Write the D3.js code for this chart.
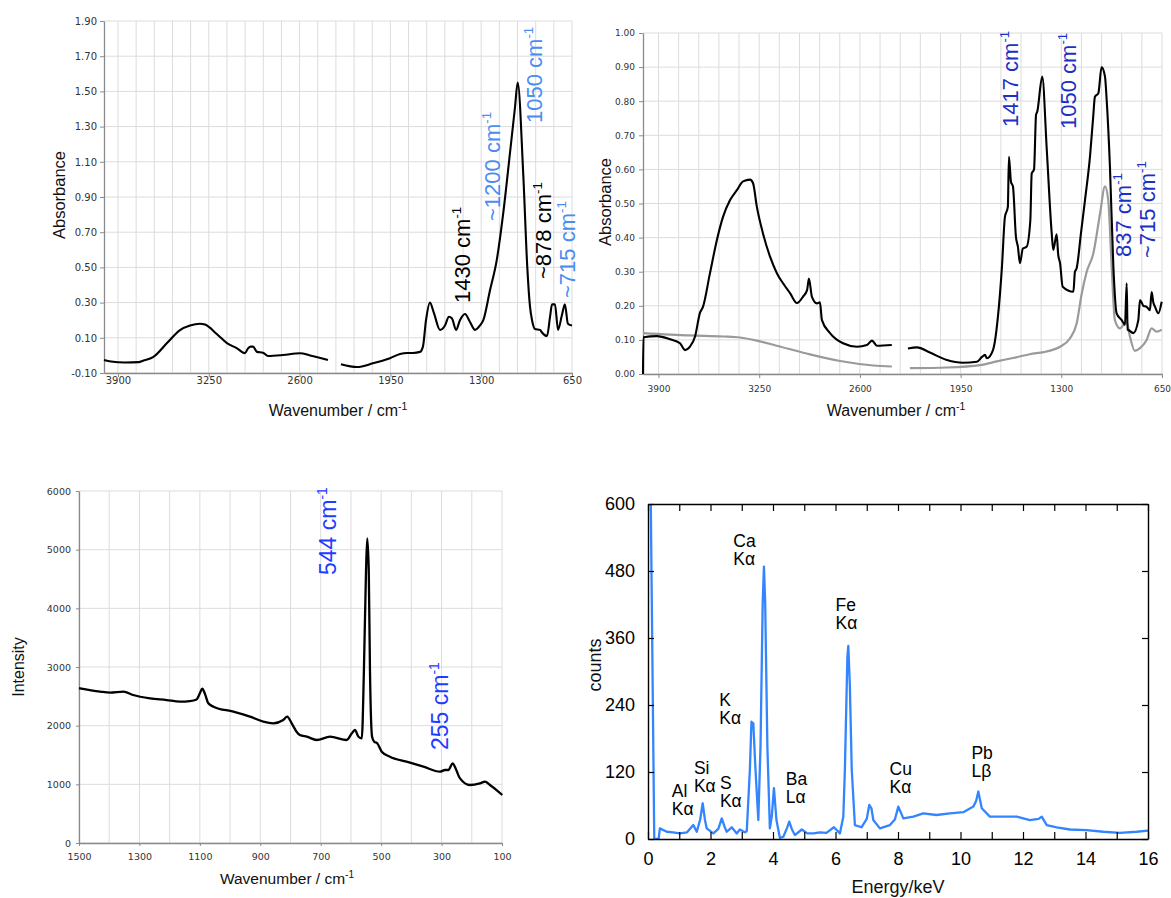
<!DOCTYPE html>
<html><head><meta charset="utf-8">
<script src="https://cdn.jsdelivr.net/npm/d3@7/dist/d3.min.js"></script>
<style>body{margin:0;background:#fff}svg{display:block}</style>
</head><body>
<svg id="chart" width="1171" height="898"></svg>
<script>
// ---------- DATA ----------
// Panel A: FTIR spectrum (null = gap in recorded data)
const irAWavenumber = [4000,3950,3850,3750,3721,3649,3549,3456,3384,3313,3277,3191,3120,3048,2991,2969,2950,2933,2905,2862,2826,2719,2597,2525,2397,null,
  2304,2189,2075,1953,1881,1831,1788,1738,1717,1695,1667,1638,1595,1559,1531,1509,1480,1452,1416,1380,1344,1309,1285,1237,1189,1142,1094,1058,1039,999,970,951,936,915,879,865,829,807,793,772,750,722,701,679,650];
const irAAbsorbance = [-0.026,-0.035,-0.04,-0.038,-0.03,-0.01,0.07,0.144,0.17,0.18,0.175,0.12,0.07,0.04,0.013,0.04,0.05,0.05,0.02,0.015,-0.003,0.002,0.012,0.0,-0.026,null,
  -0.05,-0.066,-0.045,-0.016,0.008,0.014,0.014,0.02,0.05,0.2,0.30,0.24,0.145,0.17,0.22,0.21,0.145,0.2,0.235,0.19,0.145,0.17,0.2,0.37,0.54,0.81,1.15,1.41,1.55,1.03,0.5,0.28,0.2,0.15,0.145,0.13,0.11,0.22,0.29,0.29,0.145,0.23,0.29,0.18,0.17];
const irAYTicks = [-0.10,0.10,0.30,0.50,0.70,0.90,1.10,1.30,1.50,1.70,1.90];
const irXTicks = [3900,3250,2600,1950,1300,650];

// Panel B: FTIR, sample (black) and reference (grey)
const irBWavenumber = [4000,3997,3910,3826,3761,3729,3697,3664,3632,3613,3568,3523,3484,3438,3393,3354,3309,3290,3265,3226,3180,3135,3096,3051,3006,2967,2941,2929,2910,2877,2858,2845,2793,2709,2619,2555,2522,2490,2394,null,
  2290,2232,2148,2038,1935,1845,1812,1793,1780,1741,1709,1683,1664,1645,1638,1625,1612,1593,1580,1567,1548,1524,1500,1491,1476,1463,1455,1423,1394,1362,1352,1330,1320,1308,1291,1222,1212,1201,1173,1147,1115,1094,1083,1061,1040,1018,1007,986,964,943,910,889,878,872,867,835,803,792,770,749,728,717,706,695,674,652];
const irBSample = [0.0,0.108,0.111,0.102,0.09,0.07,0.08,0.11,0.18,0.197,0.295,0.393,0.46,0.51,0.54,0.565,0.57,0.56,0.49,0.413,0.344,0.295,0.266,0.237,0.208,0.227,0.246,0.28,0.227,0.207,0.21,0.158,0.12,0.09,0.08,0.085,0.098,0.083,0.085,null,
  0.075,0.078,0.063,0.041,0.033,0.036,0.05,0.056,0.046,0.07,0.168,0.315,0.46,0.49,0.637,0.564,0.55,0.403,0.373,0.325,0.368,0.373,0.45,0.588,0.6,0.76,0.77,0.872,0.66,0.413,0.364,0.41,0.35,0.325,0.256,0.241,0.30,0.31,0.413,0.51,0.637,0.755,0.813,0.823,0.90,0.872,0.803,0.608,0.315,0.178,0.158,0.144,0.266,0.13,0.129,0.12,0.158,0.217,0.2,0.197,0.187,0.24,0.21,0.197,0.178,0.212];
const irBRefWavenumber = [4000,3697,3482,3374,3266,3137,2944,2728,2513,2394,null,2277,2038,1825,1716,1612,1504,1394,1308,1244,1201,1168,1136,1093,1050,1018,997,975,954,922,878,857,825,792,749,717,685,652];
const irBReference = [0.12,0.113,0.11,0.107,0.098,0.083,0.06,0.038,0.025,0.022,null,0.017,0.019,0.026,0.037,0.047,0.058,0.066,0.08,0.105,0.148,0.236,0.3,0.354,0.47,0.55,0.51,0.315,0.158,0.134,0.153,0.11,0.068,0.076,0.1,0.134,0.124,0.13];
const irBYTicks = [0,0.1,0.2,0.3,0.4,0.5,0.6,0.7,0.8,0.9,1.0];

// Panel C: Raman spectrum
const ramanShift = [1500,1497,1430,1397,1353,1321,1265,1210,1166,1133,1111,1100,1092,1083,1072,1055,989,934,890,857,824,811,796,780,769,746,713,669,614,597,587,575,564,557,550,546,541,537,530,523,513,498,471,416,360,305,289,278,263,256,239,206,173,156,140,118,99];
const ramanIntensity = [2640,2637,2580,2563,2580,2523,2466,2437,2409,2418,2446,2552,2630,2540,2381,2324,2238,2153,2068,2040,2096,2153,2040,1897,1841,1812,1756,1812,1756,1870,1926,1812,1784,2949,4653,5193,4653,2949,1812,1727,1700,1556,1471,1386,1301,1215,1244,1244,1358,1300,1102,989,1017,1045,989,903,818];
const ramanXTicks = [1500,1300,1100,900,700,500,300,100];
const ramanYTicks = [0,1000,2000,3000,4000,5000,6000];

// Panel D: EDX spectrum
const edxEnergy = [0.08,0.2,0.34,0.38,0.6,0.8,1.02,1.25,1.45,1.56,1.67,1.75,1.82,1.88,2.09,2.25,2.36,2.45,2.52,2.68,2.84,2.94,3.1,3.16,3.26,3.31,3.37,3.44,3.53,3.6,3.67,3.71,3.75,3.82,3.9,3.96,4.03,4.11,4.22,4.33,4.45,4.52,4.6,4.7,4.92,5.1,5.29,5.5,5.71,5.95,6.14,6.25,6.3,6.38,6.41,6.46,6.52,6.62,6.83,7.0,7.08,7.15,7.21,7.42,7.74,7.9,8.01,8.17,8.49,8.81,9.23,9.66,10.09,10.41,10.5,10.57,10.68,10.94,11.37,11.8,12.22,12.5,12.6,12.76,13.08,13.5,14.03,14.57,15.1,15.64,16];
const edxCounts = [650,0,0,19,13,12,10,12,25,13,35,64,35,19,10,18,37,22,13,21,10,17,12,14,124,210,207,124,34,165,422,488,422,165,19,40,91,34,2,4,20,31,18,7,17,10,10,12,11,21,10,40,124,326,346,273,124,25,21,36,61,55,34,19,25,35,58,37,40,46,43,46,48,58,68,85,55,40,40,40,34,36,40,25,21,17,16,13,11,13,15];
const edxXTicks = [0,1,2,3,4,5,6,7,8,9,10,11,12,13,14,15,16];
const edxYTicks = [0,120,240,360,480,600];
const edxLabels = [["Al","Kα",0.76,791],["Si","Kα",1.47,768],["S","Kα",2.30,783],["K","Kα",2.28,700],["Ca","Kα",2.73,541],["Ba","Lα",4.41,779],["Fe","Kα",6.0,605],["Cu","Kα",7.73,769],["Pb","Lβ",10.35,753]];

// ---------- DRAWING ----------
const SANS = "'Liberation Sans', Arial, Helvetica, sans-serif";
const TICKF = "'DejaVu Sans', Verdana, sans-serif";
const svg = d3.select("#chart");
svg.append("rect").attr("width",1171).attr("height",898).attr("fill","#fff");

const zip = (a,b) => a.map((v,i)=>[v,b[i]]);

function grid(g, x, y, xs, ys){
  g.append("g").selectAll("line").data(xs).join("line")
    .attr("x1",d=>x(d)).attr("x2",d=>x(d)).attr("y1",y.range()[0]).attr("y2",y.range()[1])
    .attr("stroke","#dcdcdc").attr("stroke-width",1);
  g.append("g").selectAll("line").data(ys).join("line")
    .attr("y1",d=>y(d)).attr("y2",d=>y(d)).attr("x1",x.range()[0]).attr("x2",x.range()[1])
    .attr("stroke","#dcdcdc").attr("stroke-width",1);
}
function styleAxis(ax, fs){
  ax.selectAll("path.domain").attr("stroke","#8a8a8a").attr("stroke-width",1.3);
  ax.selectAll(".tick line").attr("stroke","#8a8a8a");
  ax.selectAll("text").attr("font-family",TICKF).attr("font-size",fs).attr("fill","#333");
}
function vlabel(cx, bottom, main, color, fs){
  const t = svg.append("text")
    .attr("transform",`translate(${cx+0.36*fs},${bottom}) rotate(-90)`)
    .attr("font-family",SANS).attr("font-size",fs).attr("fill",color);
  t.append("tspan").text(main);
  t.append("tspan").attr("dy",-0.42*fs).attr("font-size",fs*0.6).text("-1");
}
function axisTitle(x, y, txt, fs, rot, sup){
  const t = svg.append("text").attr("transform",`translate(${x},${y})${rot?" rotate(-90)":""}`)
    .attr("text-anchor","middle").attr("font-family",SANS).attr("font-size",fs).attr("fill","#111");
  t.append("tspan").text(txt);
  if(sup) t.append("tspan").attr("dy",-0.4*fs).attr("font-size",fs*0.65).text("-1");
}
const lineOf = (x,y) => d3.line().defined(d=>d[0]!=null && d[1]!=null).x(d=>x(d[0])).y(d=>y(d[1])).curve(d3.curveMonotoneX);

// ----- Panel A -----
{
  const x = d3.scaleLinear().domain([4000,650]).range([104,572]);
  const y = d3.scaleLinear().domain([-0.10,1.90]).range([373,21]);
  const g = svg.append("g");
  grid(g, x, y, d3.range(650,3901,130), irAYTicks);
  const ay = g.append("g").attr("transform","translate(104,0)")
    .call(d3.axisLeft(y).tickValues(irAYTicks).tickSize(4).tickPadding(3).tickSizeOuter(0).tickFormat(d=>d.toFixed(2)));
  styleAxis(ay, 10);
  const ax = g.append("g").attr("transform","translate(0,373)")
    .call(d3.axisBottom(x).tickValues(irXTicks).tickSize(4).tickPadding(0).tickSizeOuter(0).tickFormat(d3.format("d")));
  styleAxis(ax, 10);
  g.append("path").datum(zip(irAWavenumber,irAAbsorbance)).attr("d",lineOf(x,y))
    .attr("fill","none").attr("stroke","#000").attr("stroke-width",2.1).attr("stroke-linejoin","round");
  axisTitle(65,195,"Absorbance",16.5,true,false);
  axisTitle(338,416,"Wavenumber / cm",16,false,true);
  vlabel(462,303,"1430 cm","#000",22);
  vlabel(492,221,"~1200 cm","#4a8cf0",22);
  vlabel(534,123,"1050 cm","#4a8cf0",22);
  vlabel(543,279,"~878 cm","#000",22);
  vlabel(567,298,"~715 cm","#4a8cf0",22);
}

// ----- Panel B -----
{
  const x = d3.scaleLinear().domain([4000,650]).range([643,1162]);
  const y = d3.scaleLinear().domain([0,1]).range([374,33]);
  const g = svg.append("g");
  grid(g, x, y, d3.range(650,3901,130), irBYTicks);
  const ay = g.append("g").attr("transform","translate(643,0)")
    .call(d3.axisLeft(y).tickValues(irBYTicks).tickSize(4).tickPadding(4).tickSizeOuter(0).tickFormat(d=>d.toFixed(2)));
  styleAxis(ay, 9);
  const ax = g.append("g").attr("transform","translate(0,374)")
    .call(d3.axisBottom(x).tickValues(irXTicks).tickSize(4).tickPadding(8).tickSizeOuter(0).tickFormat(d3.format("d")));
  styleAxis(ax, 9);
  g.append("path").datum(zip(irBRefWavenumber,irBReference)).attr("d",lineOf(x,y))
    .attr("fill","none").attr("stroke","#9a9a9a").attr("stroke-width",2.2).attr("stroke-linejoin","round");
  g.append("path").datum(zip(irBWavenumber,irBSample)).attr("d",lineOf(x,y))
    .attr("fill","none").attr("stroke","#000").attr("stroke-width",2.1).attr("stroke-linejoin","round");
  axisTitle(611,202,"Absorbance",16.5,true,false);
  axisTitle(896,416,"Wavenumber / cm",16,false,true);
  const c = "#1d30c4";
  vlabel(1010,127,"1417 cm",c,22);
  vlabel(1068,129,"1050 cm",c,22);
  vlabel(1123,257,"837 cm",c,22);
  vlabel(1147,258,"~715 cm",c,22);
}

// ----- Panel C -----
{
  const x = d3.scaleLinear().domain([1500,100]).range([79,502]);
  const y = d3.scaleLinear().domain([0,6000]).range([843,491]);
  const g = svg.append("g");
  grid(g, x, y, d3.range(100,1501,100), ramanYTicks);
  const ay = g.append("g").attr("transform","translate(79,0)")
    .call(d3.axisLeft(y).tickValues(ramanYTicks).tickSize(3).tickPadding(5).tickSizeOuter(0).tickFormat(d3.format("d")));
  styleAxis(ay, 9.5);
  const ax = g.append("g").attr("transform","translate(0,843)")
    .call(d3.axisBottom(x).tickValues(ramanXTicks).tickSize(3).tickPadding(7).tickSizeOuter(0).tickFormat(d3.format("d")));
  styleAxis(ax, 9.5);
  g.append("path").datum(zip(ramanShift,ramanIntensity)).attr("d",lineOf(x,y))
    .attr("fill","none").attr("stroke","#000").attr("stroke-width",2.3).attr("stroke-linejoin","round");
  axisTitle(24,667,"Intensity",16,true,false);
  axisTitle(287,884,"Wavenumber / cm",15.5,false,true);
  vlabel(328,575,"544 cm","#1f3cff",23);
  vlabel(440,750,"255 cm","#1f3cff",23);
}

// ----- Panel D -----
{
  const x = d3.scaleLinear().domain([0,16]).range([648,1148]);
  const y = d3.scaleLinear().domain([0,600]).range([839,504]);
  const g = svg.append("g");
  svg.append("defs").append("clipPath").attr("id","edxclip")
    .append("rect").attr("x",648).attr("y",504).attr("width",500).attr("height",335);
  g.append("path").datum(zip(edxEnergy,edxCounts)).attr("d",lineOf(x,y).curve(d3.curveLinear))
    .attr("clip-path","url(#edxclip)")
    .attr("fill","none").attr("stroke","#3385ff").attr("stroke-width",2.3).attr("stroke-linejoin","round");
  const fmt = d => (d%2===0 ? String(d) : "");
  const axB = g.append("g").attr("transform","translate(0,839)")
    .call(d3.axisBottom(x).tickValues(edxXTicks).tickSize(-7).tickPadding(13).tickSizeOuter(0).tickFormat(fmt));
  const axT = g.append("g").attr("transform","translate(0,504)")
    .call(d3.axisTop(x).tickValues(edxXTicks).tickSize(-7).tickSizeOuter(0).tickFormat(""));
  const axL = g.append("g").attr("transform","translate(648,0)")
    .call(d3.axisLeft(y).tickValues(edxYTicks).tickSize(-6).tickPadding(13).tickSizeOuter(0).tickFormat(d3.format("d")));
  const axR = g.append("g").attr("transform","translate(1148,0)")
    .call(d3.axisRight(y).tickValues(edxYTicks).tickSize(-6).tickSizeOuter(0).tickFormat(""));
  [axB,axT,axL,axR].forEach(a=>{
    a.selectAll("path.domain").attr("stroke","#000").attr("stroke-width",1.4);
    a.selectAll(".tick line").attr("stroke","#000").attr("stroke-width",1.2);
    a.selectAll("text").attr("font-family",SANS).attr("font-size",18).attr("fill","#000");
  });
  axisTitle(601,665,"counts",18,true,false);
  axisTitle(898,893,"Energy/keV",18,false,false);
  edxLabels.forEach(([el,line,e,yTop])=>{
    const t = g.append("text").attr("font-family",SANS).attr("font-size",17.5).attr("fill","#000");
    t.append("tspan").attr("x",x(e)).attr("y",yTop+6).text(el);
    t.append("tspan").attr("x",x(e)).attr("y",yTop+24).text(line);
  });
}
</script>
</body></html>
